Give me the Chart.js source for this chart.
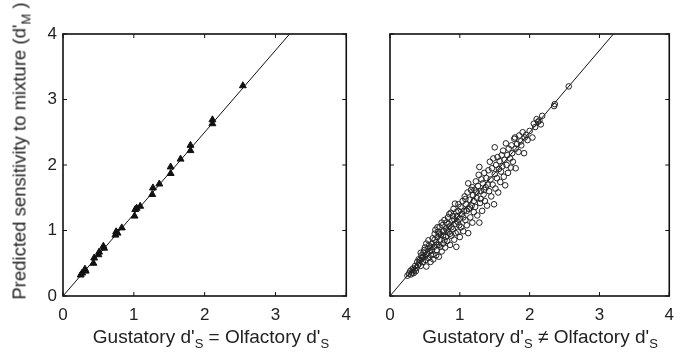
<!DOCTYPE html>
<html>
<head>
<meta charset="utf-8">
<script src="https://cdn.jsdelivr.net/npm/chart.js@4.4.1/dist/chart.umd.min.js"></script>
<style>
  body { margin: 0; width: 683px; height: 354px; position: relative; background: #fff; overflow: hidden;
         font-family: "Liberation Sans", sans-serif; color: #222; }
  canvas { position: absolute; top: 0; }
  #leftChart { left: 0; }
  #rightChart { left: 360px; }
  .xtitle { position: absolute; top: 326px; font-size: 19px; white-space: nowrap; transform: translateX(-50%); }
  .ytitle { position: absolute; left: 21px; top: 151px; font-size: 18.5px; white-space: nowrap;
            transform: translate(-50%, -50%) rotate(-90deg); }
  sub { font-size: 13px; vertical-align: -5px; }
</style>
</head>
<body>
<canvas id="leftChart" width="360" height="354"></canvas>
<canvas id="rightChart" width="323" height="354"></canvas>
<div class="ytitle">Predicted sensitivity to mixture (d'<sub>M</sub> )</div>
<div class="xtitle" style="left:211px">Gustatory d'<sub>S</sub> = Olfactory d'<sub>S</sub></div>
<div class="xtitle" style="left:540px">Gustatory d'<sub>S</sub> ≠ Olfactory d'<sub>S</sub></div>
<script>
// axis ticks (both panels)
const tickValues = [0, 1, 2, 3, 4];
const tickLabels = ['0', '1', '2', '3', '4'];

// reference line d'M vs d'S
const lineX = [0, 3.2];
const lineY = [0, 4];

// left panel: equal gustatory / olfactory sensitivity (triangles)
const leftPoints = [
  [0.25, 0.32], [0.27, 0.35], [0.31, 0.41], [0.32, 0.38], [0.43, 0.50], [0.44, 0.58],
  [0.50, 0.63], [0.51, 0.67], [0.58, 0.73], [0.57, 0.76], [0.74, 0.93], [0.75, 0.98],
  [0.77, 0.96], [0.83, 1.04], [1.01, 1.22], [1.02, 1.32], [1.04, 1.34], [1.09, 1.37],
  [1.26, 1.55], [1.27, 1.65], [1.36, 1.71], [1.52, 1.87], [1.52, 1.97], [1.66, 2.09],
  [1.80, 2.22], [1.80, 2.30], [2.11, 2.63], [2.11, 2.69], [2.54, 3.21]
];

// right panel: unequal gustatory / olfactory sensitivity (open circles)
const rightPoints = [
  [0.25, 0.31], [0.27, 0.34], [0.30, 0.33], [0.29, 0.38], [0.32, 0.36], [0.33, 0.42], [0.35, 0.40],
  [0.36, 0.46], [0.38, 0.43], [0.34, 0.35], [0.40, 0.47], [0.39, 0.52], [0.31, 0.40], [0.37, 0.38],
  [0.42, 0.50], [0.43, 0.55], [0.44, 0.46], [0.46, 0.58], [0.45, 0.62], [0.47, 0.52], [0.48, 0.66],
  [0.50, 0.60], [0.49, 0.70], [0.51, 0.55], [0.52, 0.45], [0.53, 0.64], [0.54, 0.72], [0.55, 0.58],
  [0.56, 0.77], [0.57, 0.68], [0.58, 0.52], [0.59, 0.62], [0.52, 0.80], [0.55, 0.85], [0.58, 0.74],
  [0.60, 0.80], [0.60, 0.70], [0.47, 0.60], [0.41, 0.56], [0.44, 0.66], [0.50, 0.74],
  [0.61, 0.88], [0.62, 0.64], [0.63, 0.75], [0.64, 0.95], [0.65, 1.01], [0.66, 0.82], [0.67, 0.70],
  [0.68, 0.90], [0.69, 0.98], [0.70, 0.60], [0.70, 0.78], [0.71, 1.05], [0.72, 0.86], [0.73, 0.94],
  [0.74, 0.68], [0.75, 1.08], [0.76, 0.80], [0.77, 0.99], [0.78, 1.16], [0.79, 0.74], [0.80, 0.90],
  [0.80, 1.03], [0.62, 0.56], [0.66, 0.62], [0.72, 0.75], [0.68, 1.05], [0.74, 1.12], [0.64, 0.86],
  [0.76, 0.92], [0.70, 0.95], [0.78, 0.85], [0.67, 0.78],
  [0.81, 1.12], [0.82, 0.84], [0.83, 1.20], [0.84, 0.97], [0.85, 1.06], [0.86, 0.78], [0.87, 1.27],
  [0.88, 0.92], [0.89, 1.15], [0.90, 1.02], [0.91, 1.33], [0.92, 0.86], [0.93, 1.41], [0.94, 1.10],
  [0.95, 0.75], [0.96, 1.22], [0.97, 0.98], [0.98, 1.30], [0.99, 1.08], [1.00, 0.90], [1.00, 1.18],
  [0.82, 1.00], [0.85, 1.25], [0.88, 1.05], [0.92, 1.17], [0.95, 1.28], [0.98, 1.40], [0.86, 0.95],
  [0.94, 0.96], [0.90, 1.22], [0.97, 1.13], [0.84, 1.10],
  [1.01, 1.36], [1.02, 1.05], [1.03, 1.25], [1.04, 1.45], [1.05, 0.99], [1.06, 1.30], [1.07, 1.52],
  [1.08, 1.16], [1.09, 1.40], [1.10, 1.08], [1.11, 1.58], [1.12, 0.96], [1.12, 1.72], [1.13, 1.33],
  [1.14, 1.47], [1.15, 1.20], [1.16, 1.62], [1.17, 1.38], [1.18, 1.12], [1.19, 1.54], [1.20, 1.28],
  [1.20, 1.45], [1.05, 1.20], [1.10, 1.30], [1.15, 1.35], [1.08, 1.48], [1.18, 1.66],
  [1.21, 1.62], [1.22, 1.36], [1.23, 1.75], [1.24, 1.50], [1.25, 1.23], [1.26, 1.68], [1.27, 1.85],
  [1.28, 1.12], [1.28, 1.97], [1.29, 1.42], [1.30, 1.60], [1.31, 1.78], [1.32, 1.30], [1.33, 1.72],
  [1.34, 1.55], [1.35, 1.88], [1.36, 1.45], [1.37, 1.66], [1.38, 1.80], [1.39, 1.38], [1.40, 1.70],
  [1.24, 1.58], [1.30, 1.48], [1.35, 1.62],
  [1.41, 1.92], [1.42, 1.60], [1.43, 2.05], [1.44, 1.78], [1.45, 1.52], [1.46, 1.95], [1.47, 1.70],
  [1.48, 2.10], [1.49, 1.40], [1.50, 2.27], [1.50, 1.86], [1.51, 1.64], [1.52, 2.00], [1.53, 1.80],
  [1.54, 2.12], [1.55, 1.58], [1.56, 1.94], [1.57, 2.06], [1.58, 1.74], [1.59, 1.90], [1.60, 2.15],
  [1.61, 1.98], [1.62, 2.22], [1.63, 1.82], [1.64, 2.08], [1.65, 1.69], [1.66, 2.33], [1.67, 2.00],
  [1.68, 2.15], [1.69, 1.88], [1.70, 2.25], [1.72, 2.10], [1.73, 1.96], [1.74, 2.30], [1.75, 2.18],
  [1.76, 2.05], [1.78, 2.40], [1.79, 2.42], [1.80, 1.95], [1.80, 2.25],
  [1.82, 2.32], [1.84, 2.20], [1.85, 2.45], [1.87, 2.36], [1.88, 2.30], [1.90, 2.50], [1.92, 2.18],
  [1.93, 2.42], [1.95, 2.46], [1.97, 2.38], [2.00, 2.52],
  [2.04, 2.42], [2.06, 2.63], [2.08, 2.58], [2.10, 2.70], [2.12, 2.66], [2.14, 2.68], [2.16, 2.62],
  [2.18, 2.75], [2.35, 2.90], [2.36, 2.93], [2.56, 3.20]
];

const toXY = (pts) => pts.map(([x, y]) => ({ x, y }));
const lineData = lineX.map((x, i) => ({ x, y: lineY[i] }));

// box around plot area + inward ticks on all four sides
const boxTicks = {
  id: 'boxTicks',
  afterDatasetsDraw(chart) {
    const { ctx, chartArea: a, scales: { x, y } } = chart;
    ctx.save();
    ctx.strokeStyle = '#111';
    ctx.lineWidth = 1;
    ctx.beginPath();
    tickValues.forEach((v) => {
      const px = x.getPixelForValue(v);
      const py = y.getPixelForValue(v);
      ctx.moveTo(px, a.bottom); ctx.lineTo(px, a.bottom - 4);
      ctx.moveTo(px, a.top); ctx.lineTo(px, a.top + 4);
      ctx.moveTo(a.left, py); ctx.lineTo(a.left + 4, py);
      ctx.moveTo(a.right, py); ctx.lineTo(a.right - 4, py);
    });
    ctx.stroke();
    ctx.lineWidth = 1.6;
    ctx.strokeRect(a.left, a.top, a.right - a.left, a.bottom - a.top);
    ctx.restore();
  }
};

function makePanel(canvasId, pointSet, showY, yWidth, padding) {
  const ctx = document.getElementById(canvasId).getContext('2d');
  const tickFont = { family: '"Liberation Sans", sans-serif', size: 17 };
  return new Chart(ctx, {
    type: 'scatter',
    data: {
      datasets: [
        {
          type: 'line',
          data: lineData,
          borderColor: '#111',
          borderWidth: 1,
          pointRadius: 0,
          fill: false,
          order: 2,
        },
        pointSet,
      ],
    },
    options: {
      responsive: false,
      animation: false,
      devicePixelRatio: 1,
      layout: { padding },
      plugins: { legend: { display: false }, tooltip: { enabled: false } },
      scales: {
        x: {
          type: 'linear', min: 0, max: 4,
          afterBuildTicks: (s) => { s.ticks = tickValues.map((v) => ({ value: v })); },
          afterFit: (s) => { s.height = 58; },
          grid: { display: false, drawTicks: false },
          border: { display: false },
          ticks: { font: tickFont, color: '#222', padding: 9, callback: (v, i) => tickLabels[i] },
        },
        y: {
          type: 'linear', min: 0, max: 4,
          display: showY,
          afterBuildTicks: (s) => { s.ticks = tickValues.map((v) => ({ value: v })); },
          afterFit: (s) => { s.width = yWidth; },
          grid: { display: false, drawTicks: false },
          border: { display: false },
          ticks: { font: tickFont, color: '#222', padding: 6, callback: (v, i) => tickLabels[i] },
        },
      },
    },
    plugins: [boxTicks],
  });
}

makePanel('leftChart', {
  data: toXY(leftPoints),
  pointStyle: 'triangle',
  pointRadius: 4,
  backgroundColor: '#111',
  borderColor: '#111',
  borderWidth: 1,
  order: 1,
}, true, 63, { left: 0, top: 34, right: 9, bottom: 0 });

makePanel('rightChart', {
  data: toXY(rightPoints),
  pointStyle: 'circle',
  pointRadius: 2.8,
  backgroundColor: 'rgba(0,0,0,0)',
  borderColor: '#222',
  borderWidth: 1,
  order: 1,
}, false, 30, { left: 0, top: 34, right: 6, bottom: 0 });
</script>
</body>
</html>
